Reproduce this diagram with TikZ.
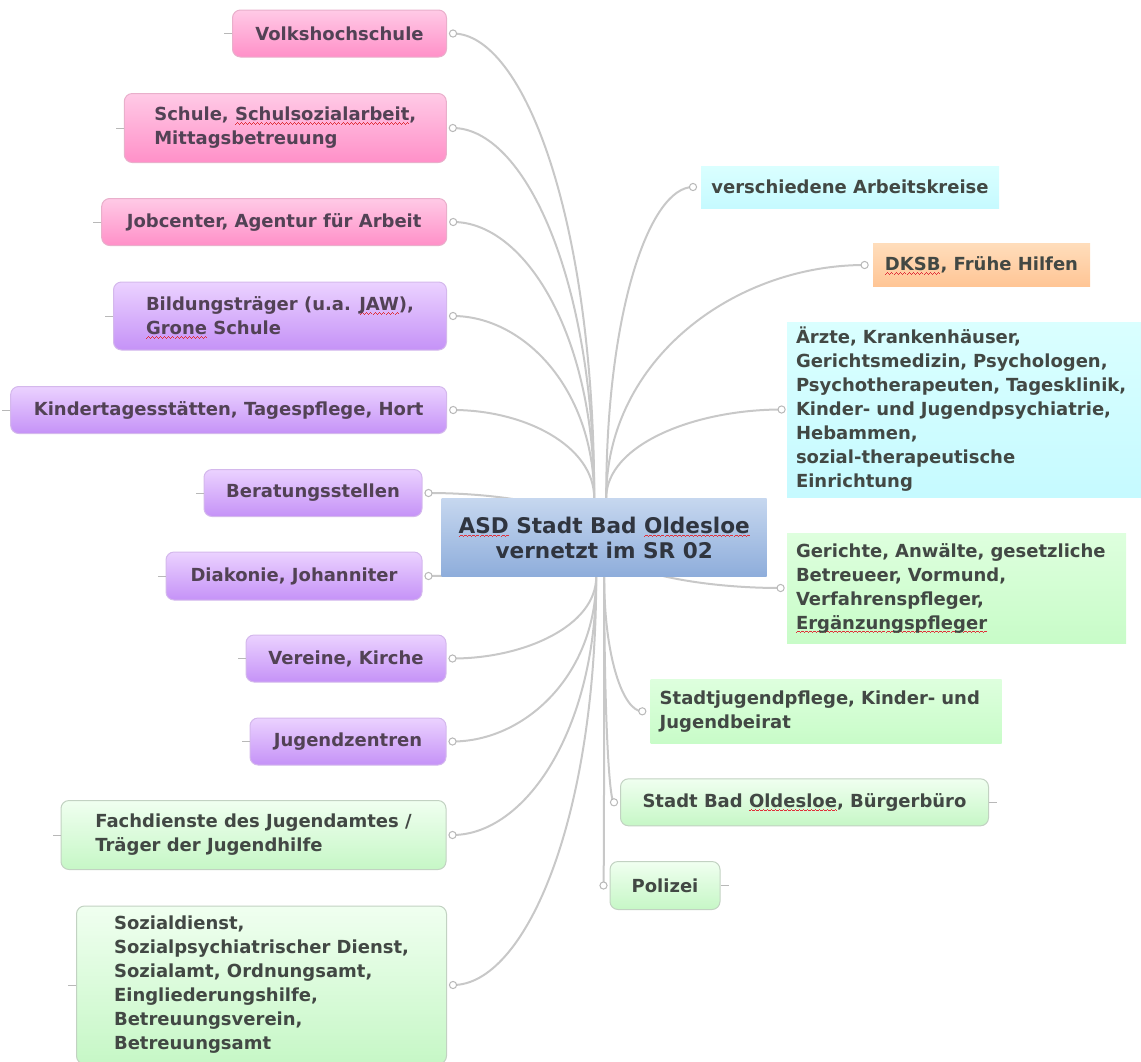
\documentclass[tikz,border=0pt]{standalone}
\usepackage{fontspec}
\setmainfont{DejaVu Sans}
\usetikzlibrary{calc}
\definecolor{pinkT}{HTML}{FFCAE6}
\definecolor{pinkB}{HTML}{FF90C8}
\definecolor{pinkBd}{HTML}{E9AFCB}
\definecolor{purT}{HTML}{EBD2FF}
\definecolor{purB}{HTML}{C592F7}
\definecolor{purBd}{HTML}{D4B8EC}
\definecolor{grnT}{HTML}{F0FFF0}
\definecolor{grnB}{HTML}{C6F7C6}
\definecolor{grnBd}{HTML}{C2D2C2}
\definecolor{cyanT}{HTML}{DAFFFF}
\definecolor{cyanB}{HTML}{C6FAFF}
\definecolor{orgT}{HTML}{FFDDBB}
\definecolor{orgB}{HTML}{FFC595}
\definecolor{gsqT}{HTML}{DEFFDE}
\definecolor{gsqB}{HTML}{C8FCC8}
\definecolor{asdT}{HTML}{C6D7EF}
\definecolor{asdB}{HTML}{8EADDB}
\definecolor{txtP}{HTML}{524255}
\definecolor{txtG}{HTML}{424844}
\definecolor{txtC}{HTML}{30353F}
\definecolor{connC}{HTML}{C8C8C8}
\definecolor{stubC}{HTML}{B8B8B8}
\definecolor{spellred}{HTML}{E0303A}
\newsavebox\spbox
\newcommand\wvsq[1]{\raise#1\hbox{\vrule width0.5pt height0.45pt depth0pt}}
\newcommand\spell[1]{\leavevmode\sbox\spbox{#1}\rlap{\raisebox{-2pt}[0pt][0pt]{\color{spellred}\hbox to\wd\spbox{\xleaders\hbox{\wvsq{0pt}\wvsq{0.4pt}\wvsq{0.8pt}\wvsq{0.4pt}}\hfil}}}\usebox\spbox}
\pgfdeclarelayer{bg}
\pgfsetlayers{bg,main}
\newcommand\conn[2]{\draw[conn] (#1) .. controls ($(#1)!0.5!(#1 -| #2)$) and ($(#2)!0.6!(#2 |- #1)$) .. (#2);}
\tikzset{
  base/.style={font=\fontsize{9}{12}\selectfont\bfseries, inner sep=0pt, align=left},
  pinkbox/.style={base, rounded corners=4pt, draw=pinkBd, line width=0.5pt, top color=pinkT, bottom color=pinkB, text=txtP},
  purbox/.style={base, rounded corners=4pt, draw=purBd, line width=0.5pt, top color=purT, bottom color=purB, text=txtP},
  grnbox/.style={base, rounded corners=4pt, draw=grnBd, line width=0.5pt, top color=grnT, bottom color=grnB, text=txtG},
  cyanbox/.style={base, top color=cyanT, bottom color=cyanB, text=txtG},
  orgbox/.style={base, top color=orgT, bottom color=orgB, text=txtG},
  gsqbox/.style={base, top color=gsqT, bottom color=gsqB, text=txtG},
  asdbox/.style={font=\fontsize{10.8}{12.5}\selectfont\bfseries, inner sep=0pt, align=center, top color=asdT, bottom color=asdB, text=txtC},
  conn/.style={draw=connC, line width=1pt},
  stub/.style={draw=stubC, line width=0.5pt},
  dotst/.style={draw=stubC, fill=white, line width=0.5pt},
}
\begin{document}
\begin{tikzpicture}[x=0.5pt, y=-0.5pt]
\useasboundingbox (0,0) rectangle (1141,1061);
% left nodes
\node[pinkbox, minimum width=107pt, minimum height=23.5pt] (volk) at (339.5,33.5) {Volkshochschule};
\node[pinkbox, minimum width=161pt, minimum height=34.5pt] (schule) at (285.3,128) {Schule, \spell{Schulsozialarbeit},\\Mittagsbetreuung};
\node[pinkbox, minimum width=172.5pt, minimum height=23.5pt] (job) at (274.2,222) {Jobcenter, Agentur für Arbeit};
\node[purbox, minimum width=166.5pt, minimum height=34pt] (bild) at (280,316) {Bildungsträger (u.a. \spell{JAW}),\\\spell{Grone} Schule};
\node[purbox, minimum width=218pt, minimum height=23.5pt] (kita) at (228.7,410) {Kindertagesstätten, Tagespflege, Hort};
\node[purbox, minimum width=109pt, minimum height=23.5pt] (berat) at (313,493) {Beratungsstellen};
\node[purbox, minimum width=128pt, minimum height=24pt] (diak) at (294,576) {Diakonie, Johanniter};
\node[purbox, minimum width=100pt, minimum height=23.5pt] (verein) at (346,658.5) {Vereine, Kirche};
\node[purbox, minimum width=98pt, minimum height=23.5pt] (jz) at (348,741.5) {Jugendzentren};
\node[grnbox, minimum width=192.5pt, minimum height=34.5pt] (fach) at (253.5,835) {Fachdienste des Jugendamtes /\\Träger der Jugendhilfe};
\node[grnbox, minimum width=185pt, minimum height=79pt] (sozial) at (261.5,985) {Sozialdienst,\\Sozialpsychiatrischer Dienst,\\Sozialamt, Ordnungsamt,\\Eingliederungshilfe,\\Betreuungsverein,\\Betreuungsamt};
% right nodes
\node[cyanbox, minimum width=149pt, minimum height=21pt] (ak) at (850,187) {verschiedene Arbeitskreise};
\node[orgbox, minimum width=108.5pt, minimum height=21.5pt] (dksb) at (981.5,265) {\spell{DKSB}, Frühe Hilfen};
\node[cyanbox, text width=171pt, inner xsep=4.5pt, minimum height=87.5pt] (arzt) at (967,409.5) {Ärzte, Krankenhäuser,\\Gerichtsmedizin, Psychologen,\\Psychotherapeuten, Tagesklinik,\\Kinder- und Jugendpsychiatrie,\\Hebammen,\\sozial-therapeutische\\Einrichtung};
\node[gsqbox, text width=160.5pt, inner xsep=4.5pt, minimum height=55pt] (ger) at (956.5,588) {Gerichte, Anwälte, gesetzliche\\Betreueer, Vormund,\\Verfahrenspfleger,\\\spell{Ergänzungspfleger}};
\node[gsqbox, text width=166.5pt, inner xsep=4.5pt, minimum height=32pt] (sjp) at (826.2,711.3) {Stadtjugendpflege, Kinder- und\\Jugendbeirat};
\node[grnbox, minimum width=184pt, minimum height=23.5pt] (stadt) at (804.5,802.3) {Stadt Bad \spell{Oldesloe}, Bürgerbüro};
\node[grnbox, minimum width=55pt, minimum height=24pt] (pol) at (665,885.5) {Polizei};
% centre
\node[asdbox, minimum width=162.5pt, minimum height=39pt] (asd) at (604.2,537.5) {\spell{ASD} Stadt Bad \spell{Oldesloe}\\vernetzt im SR 02};
% stubs
\foreach \n in {volk,schule,job,bild,kita,berat,diak,verein,jz,fach,sozial}
  \draw[stub] (\n.west) -- ++(-4pt,0);
\foreach \n in {stadt,pol}
  \draw[stub] (\n.east) -- ++(4pt,0);
% dot coordinates
\foreach \n in {volk,schule,job,bild,kita,berat,diak,verein,jz,fach,sozial}
  \coordinate (d-\n) at ([xshift=3pt]\n.east);
\coordinate (d-ak) at ([xshift=-3.8pt]ak.west);
\coordinate (d-dksb) at ([xshift=-4pt]dksb.west);
\coordinate (d-arzt) at ([xshift=-2.5pt]arzt.west);
\coordinate (d-ger) at ([xshift=-3pt]ger.west);
\coordinate (d-sjp) at ([xshift=-4pt]sjp.west);
\coordinate (d-stadt) at ([xshift=-3pt]stadt.west);
\coordinate (d-pol) at ([xshift=-3pt]pol.west);
% targets at centre
\coordinate (tL) at ([xshift=-5pt]asd.north);
\coordinate (tR) at ([xshift=1pt]asd.north);
\coordinate (bL) at ([xshift=-4pt]asd.south);
\coordinate (bR) at ([xshift=0pt]asd.south);
\coordinate (cc) at ([xshift=-3pt]asd.center);
\begin{pgfonlayer}{bg}
\foreach \n in {volk,schule,job,bild,kita} { \conn{d-\n}{tL} }
\foreach \n in {berat,diak} { \conn{d-\n}{cc} }
\foreach \n in {verein,jz,fach,sozial} { \conn{d-\n}{bL} }
\foreach \n in {ak,dksb,arzt} { \conn{d-\n}{tR} }
\conn{d-ger}{cc}
\foreach \n in {sjp,stadt,pol} { \conn{d-\n}{bR} }
\end{pgfonlayer}
\foreach \n in {volk,schule,job,bild,kita,berat,diak,verein,jz,fach,sozial,ak,dksb,arzt,ger,sjp,stadt,pol}
  \draw[dotst] (d-\n) circle (1.8pt);
\end{tikzpicture}
\end{document}
